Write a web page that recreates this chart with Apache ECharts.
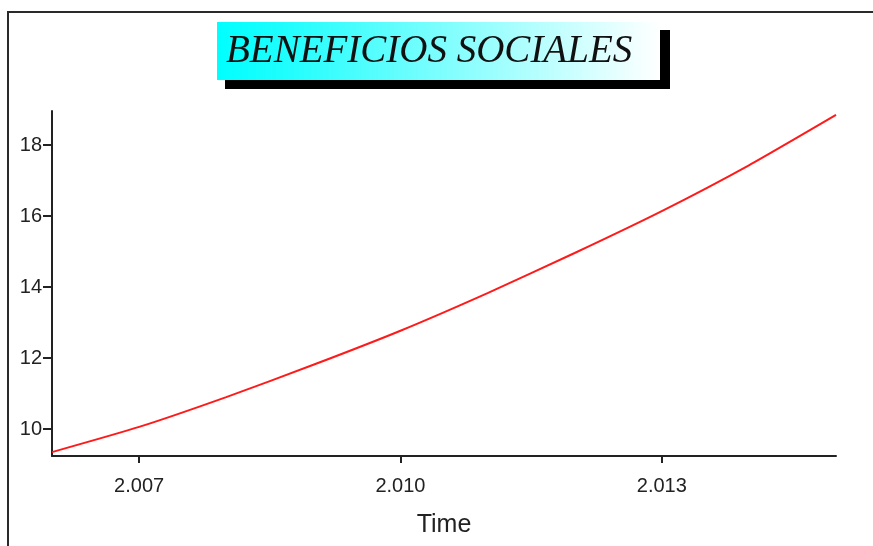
<!DOCTYPE html>
<html>
<head>
<meta charset="utf-8">
<script src="https://cdn.jsdelivr.net/npm/echarts@6/dist/echarts.min.js"></script>
<style>
  html, body { margin: 0; padding: 0; background: #fff; }
  #chart { width: 873px; height: 546px; }
</style>
</head>
<body>
<div id="chart"></div>
<script>
// Social benefits over time (simulation output, yearly)
var years = [2006, 2007, 2008, 2009, 2010, 2011, 2012, 2013, 2014, 2015];
var beneficios = [9.35, 10.06, 10.90, 11.81, 12.77, 13.83, 14.96, 16.14, 17.43, 18.85];
var xTicks = [2007, 2010, 2013];
var yTicks = [10, 12, 14, 16, 18];
var titleText = 'BENEFICIOS SOCIALES';
var xName = 'Time';

var chart = echarts.init(document.getElementById('chart'), null, { renderer: 'canvas' });

var labelFont = { fontFamily: 'Liberation Sans, Arial, sans-serif', fontSize: 20, color: '#222' };

chart.setOption({
  animation: false,
  backgroundColor: '#fff',
  grid: { left: 52, right: 37, top: 111, bottom: 90, containLabel: false },
  xAxis: {
    type: 'value',
    min: 2006,
    max: 2015,
    name: xName,
    nameLocation: 'middle',
    nameGap: 57,
    nameTextStyle: { fontFamily: 'Liberation Sans, Arial, sans-serif', fontSize: 25, color: '#222' },
    axisLine: { show: true, lineStyle: { color: '#222', width: 2 } },
    axisTick: { show: true, customValues: xTicks, length: 7, lineStyle: { color: '#222', width: 2 } },
    axisLabel: Object.assign({
      customValues: xTicks,
      margin: 20,
      formatter: function (v) { return (v / 1000).toFixed(3); }
    }, labelFont),
    splitLine: { show: false }
  },
  yAxis: {
    type: 'value',
    min: 9.24,
    max: 18.96,
    axisLine: { show: true, lineStyle: { color: '#222', width: 2 } },
    axisTick: { show: true, customValues: yTicks, length: 9, lineStyle: { color: '#222', width: 2 } },
    axisLabel: Object.assign({ customValues: yTicks, margin: 10 }, labelFont),
    splitLine: { show: false }
  },
  series: [{
    type: 'line',
    data: years.map(function (y, i) { return [y, beneficios[i]]; }),
    showSymbol: false,
    smooth: 0.2,
    lineStyle: { color: '#ff1a1a', width: 2 },
    itemStyle: { color: '#ff1a1a' }
  }],
  graphic: [
    {
      type: 'rect',
      shape: { x: 8, y: 12, width: 900, height: 600 },
      style: { fill: 'none', stroke: '#2a2a2a', lineWidth: 2 },
      silent: true
    },
    {
      type: 'rect',
      shape: { x: 225, y: 30, width: 445, height: 59 },
      style: { fill: '#000' },
      silent: true
    },
    {
      type: 'rect',
      shape: { x: 217, y: 22, width: 443, height: 58 },
      style: {
        fill: new echarts.graphic.LinearGradient(0, 0, 1, 0, [
          { offset: 0, color: '#00ffff' },
          { offset: 0.15, color: '#1ffdfd' },
          { offset: 1, color: '#ffffff' }
        ])
      },
      silent: true
    },
    {
      type: 'text',
      left: 226,
      top: 32,
      style: {
        text: titleText,
        font: 'italic 39px "Liberation Serif", "Times New Roman", serif',
        fill: '#111'
      },
      silent: true
    }
  ]
});
</script>
</body>
</html>
